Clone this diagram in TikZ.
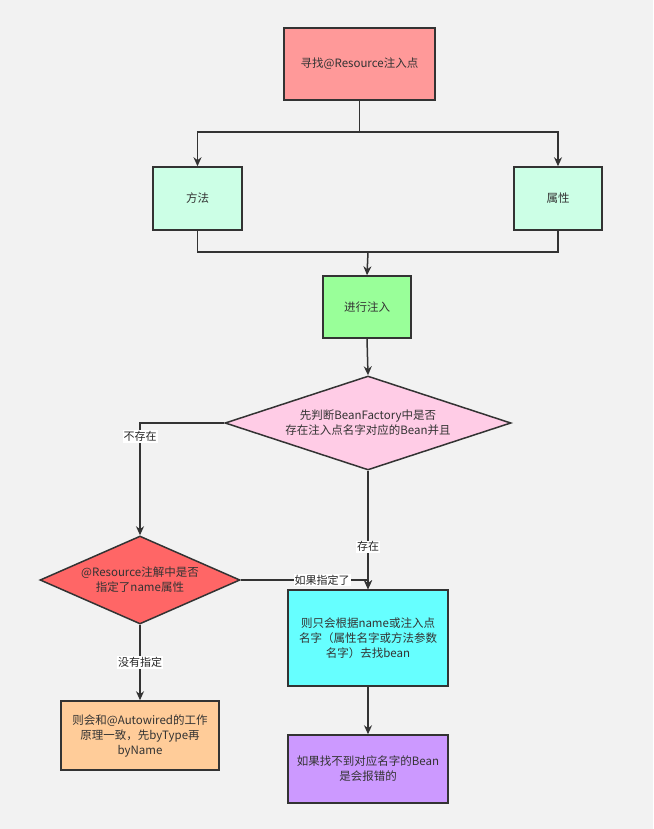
\documentclass[tikz,border=0pt]{standalone}
\usepackage{fontspec}
\setmainfont{Noto Sans CJK SC}
\usetikzlibrary{shapes.geometric,arrows.meta}
\definecolor{bg}{HTML}{F2F2F2}
\definecolor{ln}{HTML}{333333}
\definecolor{cTop}{HTML}{FF9999}
\definecolor{cMint}{HTML}{CCFFE6}
\definecolor{cGreen}{HTML}{99FF99}
\definecolor{cPink}{HTML}{FFCCE6}
\definecolor{cRed}{HTML}{FF6666}
\definecolor{cCyan}{HTML}{66FFFF}
\definecolor{cPurple}{HTML}{CC99FF}
\definecolor{cOrange}{HTML}{FFCC99}
\tikzset{
  box/.style={draw=ln, line width=1.5pt, rectangle, align=center, inner sep=2pt,
    font=\fontsize{11.5}{15}\selectfont, text=black!80},
  dia/.style={draw=ln, line width=1.5pt, diamond, inner sep=0pt},
  diatext/.style={align=center, inner sep=0pt, font=\fontsize{11.5}{15}\selectfont, text=black!80},
  conn/.style={draw=ln, line width=1.5pt, -{Stealth[length=9pt,width=8pt]}},
  plain/.style={draw=ln, line width=1.5pt},
  lab/.style={fill=white, inner sep=1pt, font=\fontsize{11}{12}\selectfont, text=black!85}
}
\begin{document}
\begin{tikzpicture}[x=1pt,y=-1pt]
\fill[bg] (0,0) rectangle (653,829);
\useasboundingbox (0,0) rectangle (653,829);

\node[box, fill=cTop, minimum width=151pt, minimum height=72pt] (top) at (359.5,64) {寻找@Resource注入点};
\node[box, fill=cMint, minimum width=89pt, minimum height=63pt] (m) at (197.5,198.5) {方法};
\node[box, fill=cMint, minimum width=88pt, minimum height=63pt] (s) at (558,198.5) {属性};
\node[box, fill=cGreen, minimum width=88pt, minimum height=62pt] (inj) at (367,307) {进行注入};
\node[dia, fill=cPink, minimum width=286pt, minimum height=94pt] (d1) at (368,423) {};
\node[diatext] (d1t) at (d1.center) {先判断BeanFactory中是否\\存在注入点名字对应的Bean并且};
\node[dia, fill=cRed, minimum width=200pt, minimum height=88pt] (d2) at (140,580) {};
\node[diatext] (d2t) at (d2.center) {@Resource注解中是否\\指定了name属性};
\node[box, fill=cCyan, minimum width=160pt, minimum height=96pt] (cy) at (368,638) {则只会根据name或注入点\\名字（属性名字或方法参数\\名字）去找bean};
\node[box, fill=cPurple, minimum width=160pt, minimum height=68pt] (pu) at (368,769) {如果找不到对应名字的Bean\\是会报错的};
\node[box, fill=cOrange, minimum width=158pt, minimum height=69pt] (or) at (140,735.5) {则会和@Autowired的工作\\原理一致，先byType再\\byName};

\coordinate (j1) at (359.5,132);
\coordinate (j2) at (368,252);

\draw[plain] (top.south) -- (j1);
\draw[conn] (j1) -| (m.north);
\draw[conn] (j1) -| (s.north);
\draw[plain] (m.south) |- (j2);
\draw[plain] (s.south) |- (j2);
\draw[conn] (j2) -- (inj.north);
\draw[conn] (inj.south) -- (d1.north);
\draw[conn] (d1.west) -| (d2.north) node[lab, pos=0.56] {不存在};
\draw[conn] (d1.south) -- (cy.north) node[lab, pos=0.64] {存在};
\draw[conn] (d2.east) -| (cy.north) node[lab, pos=0.32] {如果指定了};
\draw[conn] (d2.south) -- (or.north) node[lab, midway] {没有指定};
\draw[conn] (cy.south) -- (pu.north);
\end{tikzpicture}
\end{document}
